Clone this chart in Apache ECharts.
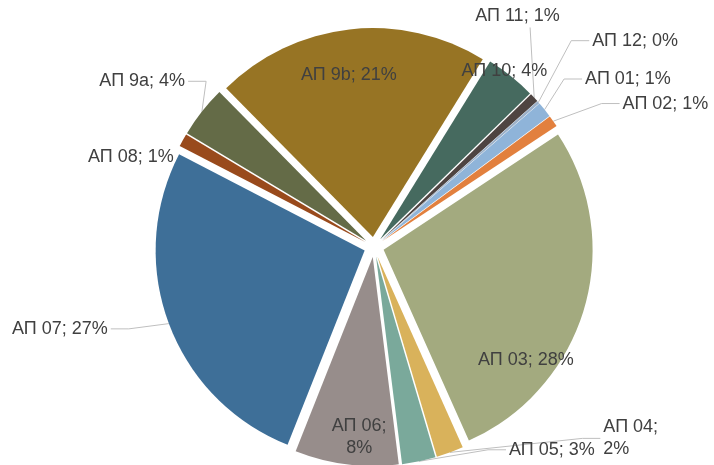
<!DOCTYPE html>
<html lang="ru">

<head>
    <meta charset="UTF-8" />
    <title>eCharts</title>
    <script src="https://cdn.jsdelivr.net/npm/echarts@6.0.0/dist/echarts.min.js"></script>
</head>

<body style="margin: 0;">
    <div id="main" style="width: 714px; height: 465px;"></div>

    <script>
        const categories = ['АП 01', 'АП 02', 'АП 03', 'АП 04', 'АП 05', 'АП 06', 'АП 07',
            'АП 08', 'АП 9a', 'АП 9b', 'АП 10', 'АП 11', 'АП 12'];
        const shares = [1.2, 0.9, 27.6, 2.1, 2.6, 8.0, 26.6, 1.0, 4.0, 21.2, 3.9, 0.7, 0.2];
        const colors = ['#8FB4D9', '#E2803E', '#A3AA7F', '#D9B25B', '#7AA99B', '#978D8B', '#3E6F98',
            '#994A1C', '#646B47', '#977424', '#466A5F', '#4E4441', '#9BB0C8'];

        // labels that sit on the slice, and labels broken in two lines
        const insideLabels = ['АП 03', 'АП 06', 'АП 9b'];
        const noLine = ['АП 03', 'АП 06', 'АП 9b', 'АП 10', 'АП 08'];
        const wrappedLabels = ['АП 04', 'АП 06'];
        // label nudges from echarts default spot, same order as categories
        const nudges = [[-17, -59], [10, -59], [39, 80], [74, 11], [62, -13], [0, 73], [-22, 0],
            [29, 24], [20, -21], [-12, -55], [-84, 7], [-95, -73], [4, -73]];

        const myChart = echarts.init(document.getElementById('main'));

        const data = categories.map((name, i) => ({
            name: name,
            value: shares[i],
            selected: true,
            itemStyle: { color: colors[i] },
            label: { position: insideLabels.includes(name) ? 'inside' : 'outside' },
            labelLine: { show: !noLine.includes(name) }
        }));

        // move label by its nudge, and re-aim the leader line at the moved label
        function placeLabel(p) {
            const i = p.dataIndex;
            const [dx, dy] = nudges[i];
            const out = { dx: dx, dy: dy };
            const pts = p.labelLinePoints;
            if (!pts || noLine.includes(categories[i])) return out;
            const r = p.labelRect;
            const cy = r.y + r.height / 2 + dy;
            if (categories[i] === 'АП 11') {
                out.labelLinePoints = [pts[0], [r.x + dx + r.width * 0.65, r.y + r.height + dy]];
                return out;
            }
            const right = pts[2][0] >= pts[0][0];
            const end = right ? [r.x + dx - 3, cy] : [r.x + r.width + dx + 3, cy];
            const mid = [end[0] + (right ? -18 : 18), cy];
            out.labelLinePoints = [pts[0], mid, end];
            return out;
        }

        const options = {
            animation: false,
            series: [{
                type: 'pie',
                center: [374, 247],
                radius: 209,
                startAngle: 41,
                clockwise: true,
                selectedMode: 'multiple',
                selectedOffset: 10,
                avoidLabelOverlap: true,
                emphasis: { disabled: true },
                select: { itemStyle: { borderWidth: 0 } },
                label: {
                    fontFamily: 'Liberation Sans',
                    fontSize: 18,
                    color: '#404040',
                    lineHeight: 22,
                    formatter: (p) => p.name + ';' + (wrappedLabels.includes(p.name) ? '\n' : ' ') +
                        Math.round(p.percent) + '%'
                },
                labelLine: {
                    length: 15,
                    length2: 20,
                    lineStyle: { color: '#BFBFBF', width: 1 }
                },
                labelLayout: placeLabel,
                data: data
            }]
        };

        myChart.setOption(options);
    </script>
</body>

</html>
